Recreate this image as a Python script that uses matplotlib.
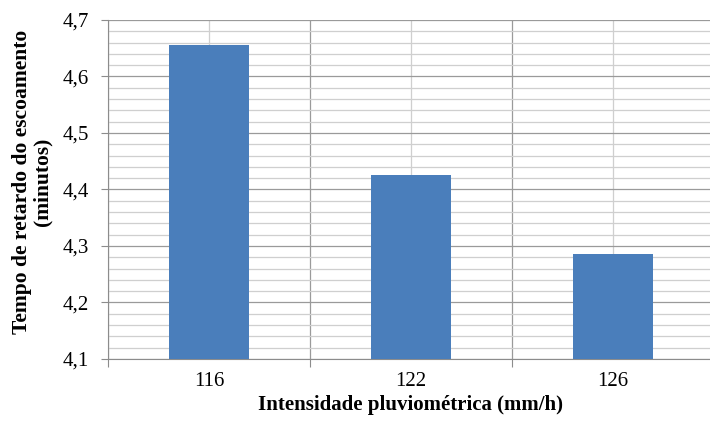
import matplotlib
matplotlib.use('Agg')
import matplotlib.pyplot as plt
from matplotlib.ticker import MultipleLocator, FuncFormatter, FixedLocator

# data
intensidade = ['116', '122', '126']
tempo_retardo = [4.655, 4.425, 4.285]

plt.rcParams['font.family'] = ['Liberation Serif', 'DejaVu Serif']

fig = plt.figure(figsize=(7.1, 4.23), dpi=100)
ax = fig.add_axes([108 / 710, 1 - 359 / 423, 606 / 710, 339 / 423])

x = list(range(len(intensidade)))
ax.bar(x, tempo_retardo, width=0.4, bottom=0, color='#4a7ebb', zorder=3)

ax.set_ylim(4.1, 4.7)
ax.set_xlim(-0.5, len(intensidade) - 0.5)

ax.yaxis.set_major_locator(MultipleLocator(0.1))
ax.yaxis.set_minor_locator(MultipleLocator(0.02))
ax.yaxis.set_major_formatter(FuncFormatter(lambda v, p: f'{v:.1f}'.replace('.', ',')))

# major x ticks on the category borders, labels at the centres
ax.xaxis.set_major_locator(FixedLocator([i - 0.5 for i in range(len(intensidade) + 1)]))
ax.xaxis.set_minor_locator(FixedLocator(x))
ax.set_xticklabels([''] * (len(intensidade) + 1))
ax.set_xticklabels(intensidade, minor=True)

ax.grid(which='major', color='#9a9a9a', linewidth=0.9, zorder=0)
ax.grid(which='minor', color='#cfcfcf', linewidth=0.9, zorder=0)
ax.set_axisbelow(True)

ax.tick_params(axis='y', which='major', length=5, color='#8c8c8c', labelsize=15, pad=9)
ax.tick_params(axis='y', which='minor', length=0)
ax.tick_params(axis='x', which='major', length=6, color='#8c8c8c')
ax.tick_params(axis='x', which='minor', length=0, labelsize=15, pad=9)

for s in ['top', 'right']:
    ax.spines[s].set_visible(False)
for s in ['left', 'bottom']:
    ax.spines[s].set_color('#8c8c8c')

ax.set_xlabel('Intensidade pluviométrica (mm/h)', fontsize=15, fontweight='bold', labelpad=3)
ax.set_ylabel('Tempo de retardo do escoamento\n(minutos)', fontsize=15.5, fontweight='bold',
              linespacing=1.0)
ax.yaxis.set_label_coords(-0.092, 0.522)

fig.savefig('out.png', dpi=100)
